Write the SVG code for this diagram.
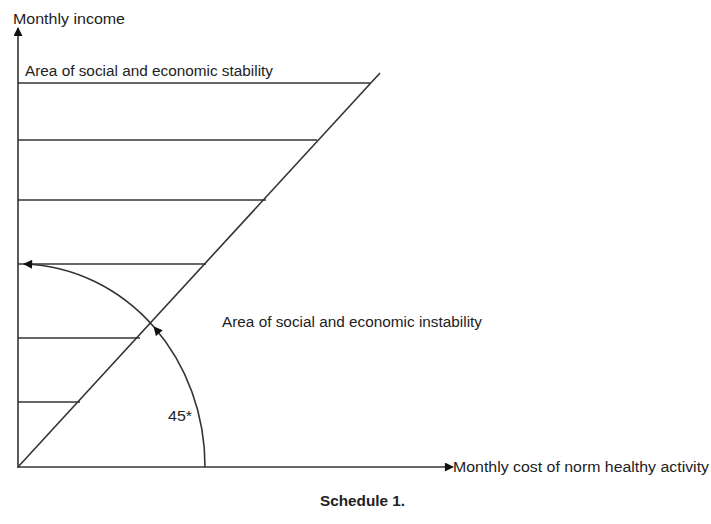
<svg xmlns="http://www.w3.org/2000/svg" width="711" height="524" viewBox="0 0 711 524">
<style>
.ln{stroke:#333;stroke-width:1.6;fill:none}
.t{font-family:"Liberation Sans","Open Sans",sans-serif;font-size:15.5px;fill:#222}
</style>
<defs>
<marker id="ah" viewBox="0 0 10 10" refX="9" refY="5" markerWidth="10" markerHeight="9" markerUnits="userSpaceOnUse" orient="auto"><path d="M0,0L10,5L0,10z" fill="#111"/></marker>
</defs>
<rect width="711" height="524" fill="#fff"/>
<g id="connectors">
<line class="ln" x1="18" y1="468" x2="18" y2="28" marker-end="url(#ah)"/>
<line class="ln" x1="18" y1="467" x2="453" y2="467" marker-end="url(#ah)"/>
<line class="ln" x1="18" y1="467" x2="380" y2="73"/>
<line class="ln" x1="18" y1="83" x2="370" y2="83"/>
<line class="ln" x1="18" y1="140" x2="317" y2="140"/>
<line class="ln" x1="18" y1="200" x2="266" y2="200"/>
<line class="ln" x1="18" y1="264" x2="206" y2="264"/>
<line class="ln" x1="18" y1="338" x2="140" y2="338"/>
<line class="ln" x1="18" y1="402" x2="80" y2="402"/>
<path class="ln" d="M205,467 A187,203 0 0 0 154,327" marker-end="url(#ah)"/>
<path class="ln" d="M154,327 A187,203 0 0 0 24,264" marker-end="url(#ah)"/>
</g>
<g id="labels">
<text class="t" x="13" y="24" textLength="112" lengthAdjust="spacingAndGlyphs">Monthly income</text>
<text class="t" x="25" y="76" textLength="248" lengthAdjust="spacingAndGlyphs">Area of social and economic stability</text>
<text class="t" x="222" y="327" textLength="260" lengthAdjust="spacingAndGlyphs">Area of social and economic instability</text>
<text class="t" x="453" y="472" textLength="256" lengthAdjust="spacingAndGlyphs">Monthly cost of norm  healthy activity</text>
<text class="t" x="168" y="421" textLength="24" lengthAdjust="spacingAndGlyphs">45*</text>
<text class="t" x="320" y="506" font-weight="bold" textLength="85" lengthAdjust="spacingAndGlyphs">Schedule 1.</text>
</g>
</svg>
